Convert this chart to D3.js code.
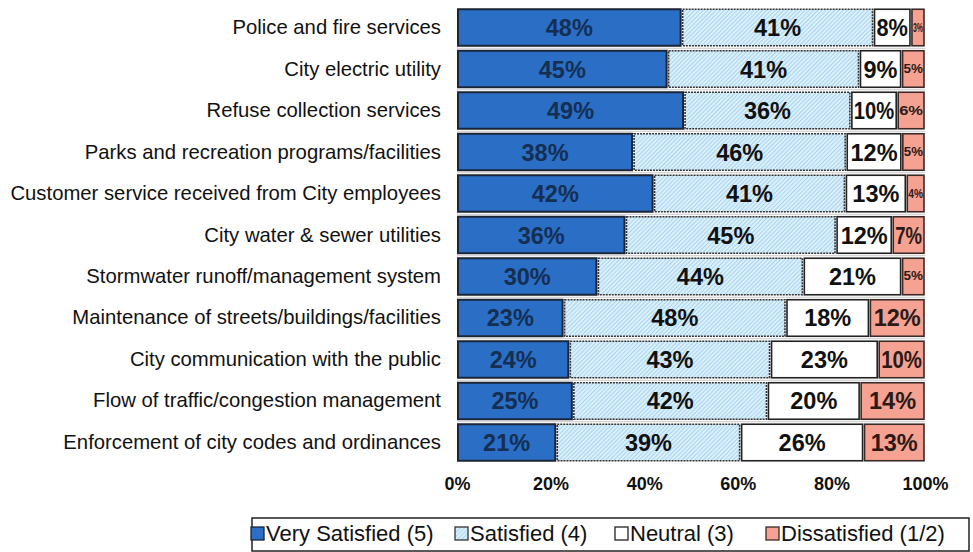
<!DOCTYPE html>
<html>
<head>
<meta charset="utf-8">
<script src="https://cdn.jsdelivr.net/npm/d3@7"></script>
<style>
  body { margin: 0; background: #fff; }
  svg { font-family: "Liberation Sans", Arial, sans-serif; }
</style>
</head>
<body>
<div id="chart"></div>
<script>
// chart values
var categories = [
  "Police and fire services",
  "City electric utility",
  "Refuse collection services",
  "Parks and recreation programs/facilities",
  "Customer service received from City employees",
  "City water & sewer utilities",
  "Stormwater runoff/management system",
  "Maintenance of streets/buildings/facilities",
  "City communication with the public",
  "Flow of traffic/congestion management",
  "Enforcement of city codes and ordinances"
];
var verySatisfied = [48, 45, 49, 38, 42, 36, 30, 23, 24, 25, 21];
var satisfied     = [41, 41, 36, 46, 41, 45, 44, 48, 43, 42, 39];
var neutral       = [ 8,  9, 10, 12, 13, 12, 21, 18, 23, 20, 26];
var dissatisfied  = [ 3,  5,  6,  5,  4,  7,  5, 12, 10, 14, 13];
var seriesNames = ["Very Satisfied (5)", "Satisfied (4)", "Neutral (3)", "Dissatisfied (1/2)"];
var tickLabels = ["0%", "20%", "40%", "60%", "80%", "100%"];

var w = 973, h = 552;
var plotLeft = 457, plotRight = 925, plotTop = 8, plotBottom = 462;

var svg = d3.select("#chart").append("svg").attr("width", w).attr("height", h);

var defs = svg.append("defs");
var pat = defs.append("pattern")
    .attr("id", "hatch")
    .attr("patternUnits", "userSpaceOnUse")
    .attr("width", 3).attr("height", 3)
    .attr("patternTransform", "rotate(45)");
pat.append("rect").attr("width", 3).attr("height", 3).attr("fill", "#dcf0fb");
pat.append("line").attr("x1", 0).attr("y1", 0).attr("x2", 0).attr("y2", 3)
    .attr("stroke", "#8cc6ec").attr("stroke-width", 1.3);

var keys = ["vs", "s", "n", "d"];
var rows = categories.map(function(c, i) {
  return {cat: c, vs: verySatisfied[i], s: satisfied[i], n: neutral[i], d: dissatisfied[i]};
});
var fills = {vs: "#2a6ec6", s: "url(#hatch)", n: "#ffffff", d: "#f6a292"};
var strokes = {vs: "#1b2535", s: "#333", n: "#222", d: "#3a2a28"};
var dashes = {vs: null, s: "2,1", n: null, d: null};
var textColors = {vs: "#152f52", s: "#111", n: "#111", d: "#2a1a18"};

var stack = d3.stack().keys(keys).offset(d3.stackOffsetExpand);
var layers = stack(rows);

var x = d3.scaleLinear().domain([0, 1]).range([plotLeft, plotRight]);
var y = d3.scaleBand().domain(categories).range([plotTop, plotBottom]).paddingInner(0.12).paddingOuter(0.03);

var g = svg.append("g");

// light separator lines between bars
g.selectAll("line.sep")
    .data(categories.slice(1))
    .enter()
    .append("line")
    .attr("class", "sep")
    .attr("x1", plotLeft).attr("x2", plotRight)
    .attr("y1", function(d) { return y(d) - y.step() * y.paddingInner() / 2; })
    .attr("y2", function(d) { return y(d) - y.step() * y.paddingInner() / 2; })
    .attr("stroke", "#c8c8c8").attr("stroke-width", 1);

layers.forEach(function(layer) {
  var k = layer.key;
  var grp = g.append("g");
  grp.selectAll("rect")
      .data(layer)
      .enter()
      .append("rect")
      .attr("x", function(d) { return x(d[0]) + 1; })
      .attr("y", function(d) { return y(d.data.cat); })
      .attr("width", function(d) { return Math.max(0, x(d[1]) - x(d[0]) - 2); })
      .attr("height", y.bandwidth())
      .attr("fill", fills[k])
      .attr("stroke", strokes[k])
      .attr("stroke-width", k == "vs" ? 2 : 1.6)
      .attr("stroke-dasharray", dashes[k]);

  grp.selectAll("text")
      .data(layer)
      .enter()
      .append("text")
      .attr("x", function(d) { return (x(d[0]) + x(d[1])) / 2; })
      .attr("y", function(d) { return y(d.data.cat) + y.bandwidth() / 2 + 8.5; })
      .attr("text-anchor", "middle")
      .attr("font-weight", "bold")
      .attr("fill", textColors[k])
      .each(function(d) {
        var wd = x(d[1]) - x(d[0]);
        var el = d3.select(this);
        var txt = d.data[k] + "%";
        el.attr("font-size", 23.5).text(txt);
        var tw = this.getComputedTextLength();
        if (wd < 32) {
          el.attr("font-size", 12).attr("y", y(d.data.cat) + y.bandwidth() / 2 + 4);
          el.attr("textLength", Math.max(4, wd - 4)).attr("lengthAdjust", "spacingAndGlyphs");
        } else if (tw > wd - 6) {
          el.attr("textLength", wd - 6).attr("lengthAdjust", "spacingAndGlyphs");
        }
      });
});

// category axis
var yAxis = d3.axisLeft(y).tickSize(0).tickPadding(16);
svg.append("g")
    .attr("transform", "translate(" + plotLeft + ",0)")
    .call(yAxis)
    .call(function(s) { s.select(".domain").remove(); })
    .selectAll("text")
    .attr("font-family", "Liberation Sans, Arial, sans-serif")
    .attr("font-size", 20.3)
    .attr("fill", "#111");

// value axis
var xAxis = d3.axisBottom(x).tickValues(d3.range(0, 1.01, 0.2)).tickSize(0).tickPadding(15)
    .tickFormat(function(d, i) { return tickLabels[i]; });
svg.append("g")
    .attr("transform", "translate(0," + plotBottom + ")")
    .call(xAxis)
    .call(function(s) { s.select(".domain").remove(); })
    .selectAll("text")
    .attr("font-family", "Liberation Sans, Arial, sans-serif")
    .attr("font-size", 18)
    .attr("font-weight", "bold")
    .attr("fill", "#111");

// legend
var lg = svg.append("g");
lg.append("rect").attr("x", 252).attr("y", 518).attr("width", 717).attr("height", 33)
    .attr("fill", "#fff").attr("stroke", "#222").attr("stroke-width", 1.5);
var legendX = [266, 470, 630, 781];
keys.forEach(function(k, i) {
  var it = lg.append("g").attr("transform", "translate(" + legendX[i] + ",0)");
  it.append("rect").attr("x", -15).attr("y", 527).attr("width", 13).attr("height", 13)
      .attr("fill", fills[k]).attr("stroke", strokes[k]).attr("stroke-width", 1.3);
  it.append("text").attr("x", 0).attr("y", 541)
      .attr("font-size", 22).attr("fill", "#111")
      .text(seriesNames[i]);
});
</script>
</body>
</html>
